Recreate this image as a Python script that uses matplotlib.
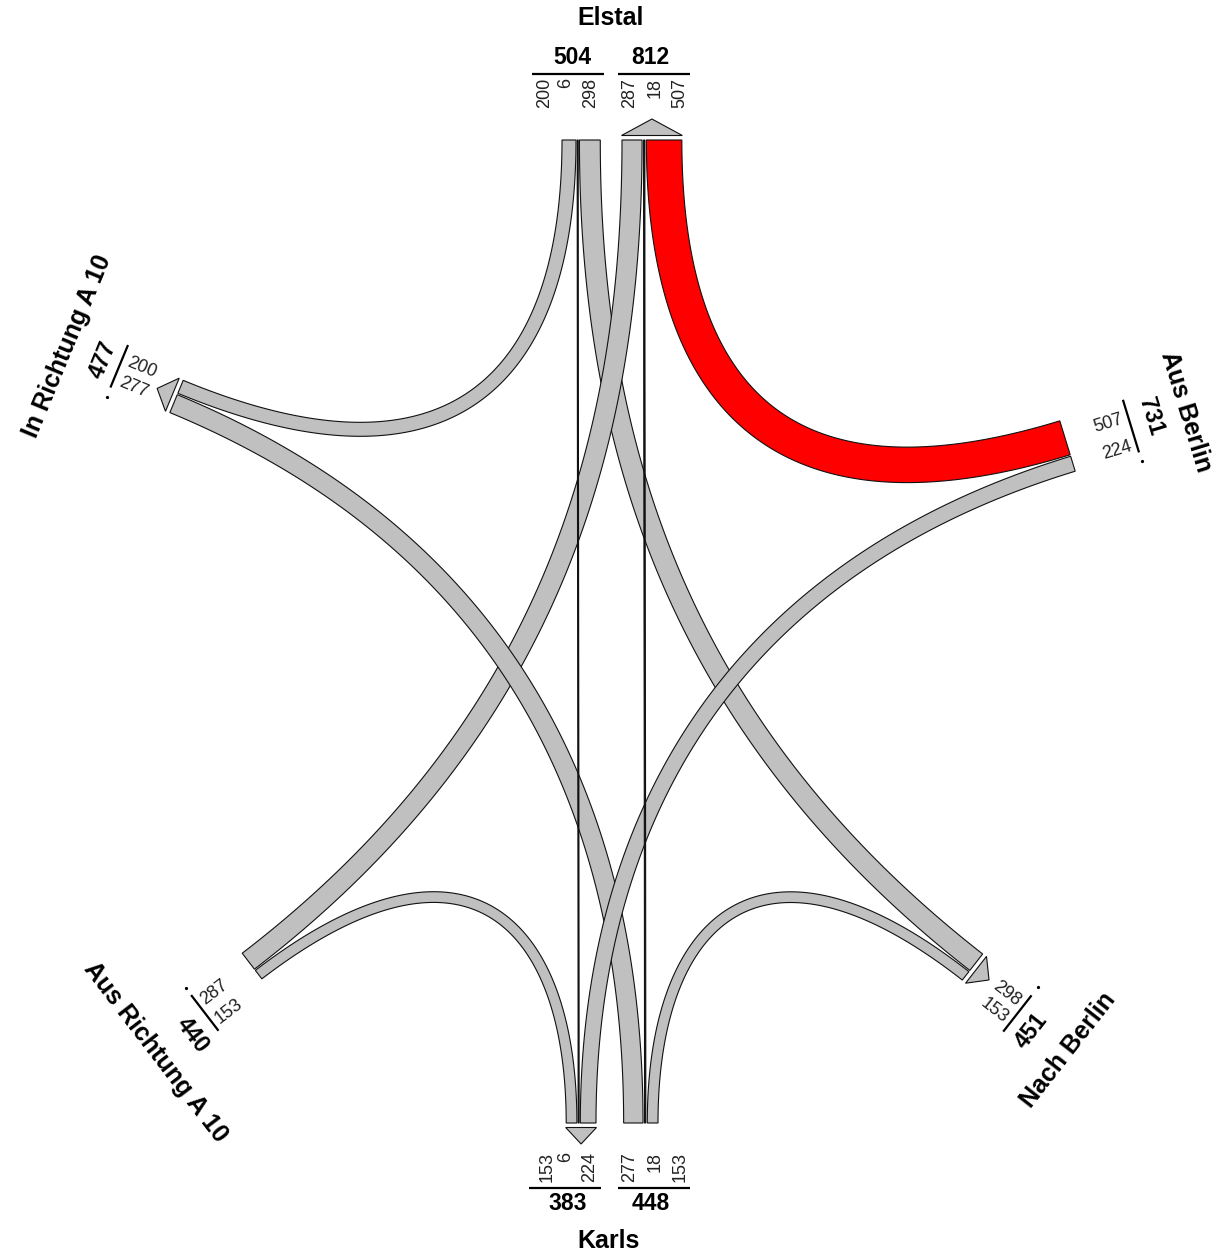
import numpy as np
import matplotlib.pyplot as plt
from matplotlib.patches import Polygon

plt.rcParams['font.family'] = ['Liberation Sans', 'DejaVu Sans']

# traffic flows of the junction (vehicles)
flow_from = ['Elstal', 'Elstal', 'Elstal', 'Aus Richtung A 10', 'Karls',
             'Aus Berlin', 'Aus Berlin', 'Aus Richtung A 10', 'Karls', 'Karls']
flow_to = ['In Richtung A 10', 'Karls', 'Nach Berlin', 'Elstal', 'Elstal',
           'Elstal', 'Karls', 'Karls', 'In Richtung A 10', 'Nach Berlin']
flow_vol = [200, 6, 298, 287, 18, 507, 224, 153, 277, 153]
red_flow = 5  # Aus Berlin -> Elstal

SCALE = 0.07   # px per vehicle
GAP = 1.5

# arm end point (px), outward angle (deg), relative curve handle
arms = {
    'Elstal': dict(o=(611, 140), ang=90, line=66.5, name=(122, 0), hw=0.85),
    'Karls': dict(o=(610, 1123), ang=-90, line=65, name=(118, 1), hw=0.85),
    'In Richtung A 10': dict(o=(176.5, 396.5), ang=157.5, line=64.5, name=(120, 4.5), hw=1.15),
    'Aus Berlin': dict(o=(1067.5, 446), ang=17, line=66.5, name=(123, 2), hw=1.15),
    'Nach Berlin': dict(o=(972.5, 967), ang=-38, line=64, name=(126, 6.6), hw=1.15),
    'Aus Richtung A 10': dict(o=(252, 966), ang=217.5, line=66, name=(129, -9), hw=1.15),
}

# groups of bands at each arm end, flows listed in +v order
groups = [
    dict(arm='Elstal', flows=[0, 1, 2], start=-49, line=(-79, -7),
         labs=[-66, -45, -20.5], lab_al=62, ha='right', tot=(83, -39), arrow=False),
    dict(arm='Elstal', flows=[3, 4, 5], start=11, line=(7, 79),
         labs=[19, 44, 69], lab_al=62, ha='right', tot=(83, 39), arrow=True),
    dict(arm='Karls', flows=[6, 1, 7], start=14, line=(9, 81),
         labs=[20, 44, 62.5], lab_al=29, ha='right', tot=(81, 42), arrow=True),
    dict(arm='Karls', flows=[9, 4, 8], start=-48, line=(-80, -8),
         labs=[-70, -45, -20], lab_al=29, ha='right', tot=(81, -40.5), arrow=False),
    dict(arm='In Richtung A 10', flows=[8, 0], start=-17.4, line=(-17, 29), dot=-27,
         labs=[-7.9, 13.7], lab_al=43.2, ha='center', tot=(82, 6), arrow=True),
    dict(arm='Aus Berlin', flows=[5, 6], start=-26.3, line=(-28, 27), dot=36,
         labs=[-9.9, 18.3], lab_al=46.2, ha='center', tot=(88, -4.5), arrow=False),
    dict(arm='Nach Berlin', flows=[2, 9], start=-16.5, line=(-14, 32), dot=-24,
         labs=[-0.7, 21], lab_al=43.5, ha='center', tot=(85.5, 14.4), arrow=True),
    dict(arm='Aus Richtung A 10', flows=[7, 3], start=-16.2, line=(-31, 14), dot=23,
         labs=[-22.3, 1.6], lab_al=46, ha='center', tot=(89, -18.5), arrow=False),
]


def frame(arm):
    a = np.radians(arms[arm]['ang'])
    u = np.array([np.cos(a), -np.sin(a)])
    v = np.array([np.sin(a), np.cos(a)])
    return np.array(arms[arm]['o'], float), u, v


def pt(arm, along, lat):
    o, u, v = frame(arm)
    return o + along * u + lat * v


def upright(a):
    a = (a + 180) % 360 - 180
    if a > 90:
        a -= 180
    if a <= -90:
        a += 180
    return a


# lateral centre of every flow at both of its ends
ends = {}
for g in groups:
    pos = g['start']
    g['span'] = [pos, None]
    for fi in g['flows']:
        w = flow_vol[fi] * SCALE
        ends[(fi, g['arm'])] = pos + w / 2
        pos += w + GAP
    g['span'][1] = pos - GAP

fig = plt.figure(figsize=(12.25, 12.55), dpi=100)
ax = fig.add_axes([0, 0, 1, 1])
ax.set_xlim(0, 1225)
ax.set_ylim(1255, 0)
ax.axis('off')


def band(fi):
    a, b = flow_from[fi], flow_to[fi]
    p0 = pt(a, 0, ends[(fi, a)])
    p3 = pt(b, 0, ends[(fi, b)])
    # handle length grows slower than the chord
    k = np.interp(np.hypot(*(p3 - p0)), [356, 480, 880], [232, 272, 340])
    p1 = p0 - k * arms[a]['hw'] * frame(a)[1]
    p2 = p3 - k * arms[b]['hw'] * frame(b)[1]
    t = np.linspace(0, 1, 240)[:, None]
    c = (1 - t) ** 3 * p0 + 3 * (1 - t) ** 2 * t * p1 + 3 * (1 - t) * t ** 2 * p2 + t ** 3 * p3
    d = 3 * (1 - t) ** 2 * (p1 - p0) + 6 * (1 - t) * t * (p2 - p1) + 3 * t ** 2 * (p3 - p2)
    n = np.column_stack([-d[:, 1], d[:, 0]])
    n /= np.linalg.norm(n, axis=1)[:, None]
    w = flow_vol[fi] * SCALE
    if fi == red_flow:
        fc = '#ff0000'
    elif w < 2:
        fc = '#111111'
    else:
        fc = '#c0c0c0'
    w = max(w, 1.0) / 2
    poly = np.vstack([c + n * w, (c - n * w)[::-1]])
    ax.add_patch(Polygon(poly, closed=True, fc=fc, ec='#111111', lw=0.8, zorder=2))


order = sorted(range(len(flow_vol)), key=lambda i: -flow_vol[i])
for fi in order:
    band(fi)

for g in groups:
    arm = g['arm']
    ang = arms[arm]['ang']
    L = arms[arm]['line']
    # arrow head on outgoing ends
    if g['arrow']:
        s0, s1 = g['span']
        tri = [pt(arm, 4.5, s0 - 0.5), pt(arm, 4.5, s1 + 0.5), pt(arm, 21, (s0 + s1) / 2)]
        ax.add_patch(Polygon(tri, closed=True, fc='#c0c0c0', ec='#111111', lw=0.8, zorder=3))
    # scale line with figures
    p, q = pt(arm, L, g['line'][0]), pt(arm, L, g['line'][1])
    ax.plot([p[0], q[0]], [p[1], q[1]], color='black', lw=1.6, solid_capstyle='butt')
    if 'dot' in g:
        d = pt(arm, L, g['dot'])
        ax.plot(d[0], d[1], 'o', color='black', ms=1.3)
    for fi, lat in zip(g['flows'], g['labs']):
        xy = pt(arm, g['lab_al'], lat)
        ax.text(xy[0], xy[1], str(flow_vol[fi]), fontsize=13, rotation=upright(ang),
                rotation_mode='anchor', ha=g['ha'], va='center', color='#222222')
    xy = pt(arm, *g['tot'])
    total = sum(flow_vol[fi] for fi in g['flows'])
    ax.text(xy[0], xy[1], str(total), fontsize=16.5, fontweight='bold',
            rotation=upright(ang - 90), rotation_mode='anchor', ha='center', va='center')

for arm, a in arms.items():
    xy = pt(arm, *a['name'])
    ax.text(xy[0], xy[1], arm, fontsize=18, fontweight='bold',
            rotation=upright(a['ang'] - 90), rotation_mode='anchor', ha='center', va='center')

fig.savefig('out.png', dpi=100)
